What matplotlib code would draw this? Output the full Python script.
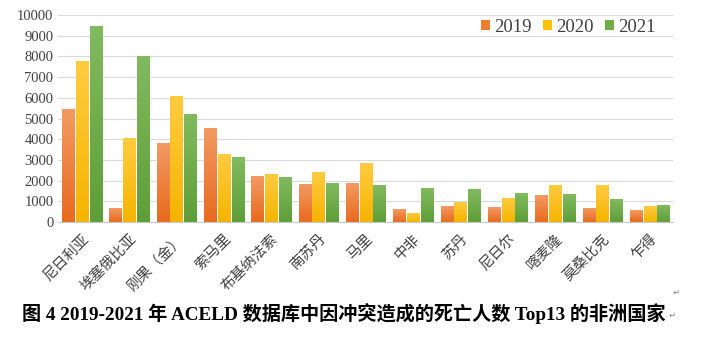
import numpy as np
import matplotlib.pyplot as plt
from matplotlib.colors import LinearSegmentedColormap

countries = ['尼日利亚', '埃塞俄比亚', '刚果（金）', '索马里', '布基纳法索', '南苏丹', '马里',
             '中非', '苏丹', '尼日尔', '喀麦隆', '莫桑比克', '乍得']
deaths_2019 = [5420, 640, 3780, 4510, 2220, 1800, 1880, 590, 750, 700, 1280, 660, 560]
deaths_2020 = [7780, 4050, 6060, 3260, 2310, 2390, 2850, 430, 960, 1120, 1750, 1780, 740]
deaths_2021 = [9440, 8020, 5210, 3100, 2140, 1860, 1770, 1610, 1570, 1380, 1330, 1080, 790]
years = ['2019', '2020', '2021']
yticks = list(range(0, 10001, 1000))

colors = ['#ED7D31', '#FFC000', '#70AD47']
# lighter top / darker bottom for the gradient fill
grad = [('#F29A63', '#E96A1E'), ('#FFCC40', '#F5B400'), ('#82BA5F', '#5E9E38')]
cjk = ['Noto Sans CJK SC', 'DejaVu Sans']
serif_cjk = ['Liberation Serif', 'Noto Sans CJK SC']

fig = plt.figure(figsize=(7.02, 3.43), dpi=100)
ax = fig.add_axes([0.083, 0.353, 0.876, 0.603])

x = np.arange(len(countries))
w = 0.255
ramp = np.linspace(0, 1, 64).reshape(-1, 1)
for i, (vals, c) in enumerate(zip([deaths_2019, deaths_2020, deaths_2021], colors)):
    bars = ax.bar(x + (i - 1) * (w + 0.035), vals, width=w, color=c, label=years[i], zorder=3)
    cmap = LinearSegmentedColormap.from_list('g%d' % i, [grad[i][1], grad[i][0]])
    for b in bars:
        x0, h = b.get_x(), b.get_height()
        ax.imshow(ramp, cmap=cmap, origin='lower', aspect='auto',
                  extent=(x0, x0 + b.get_width(), 0, h), zorder=3.5)

ax.set_xlim(-0.5, len(countries) - 0.5)
ax.set_ylim(0, 10000)
ax.set_yticks(yticks)
ax.set_yticklabels([str(v) for v in yticks], family='Liberation Serif', fontsize=10.5, color='#404040')
ax.set_xticks(x)
ax.set_xticklabels(countries, rotation=45, ha='right', rotation_mode='anchor',
                   family=cjk, fontsize=10.5, color='#404040')
ax.tick_params(length=0)
ax.tick_params(axis='x', pad=7)
ax.grid(axis='y', color='#D9D9D9', linewidth=0.8, zorder=0)
for s in ['top', 'right', 'left']:
    ax.spines[s].set_visible(False)
ax.spines['bottom'].set_color('#C8C8C8')
ax.spines['bottom'].set_zorder(4)

ax.legend(loc='center right', ncol=3, frameon=False, bbox_to_anchor=(0.987, 0.942), borderpad=0,
          prop={'family': 'Liberation Serif', 'size': 13.5},
          handlelength=0.45, handleheight=0.45, handletextpad=0.25, columnspacing=0.6,
          labelcolor='#404040')

fig.text(0.031, 0.085, '图 4 2019-2021 年 ACELD 数据库中因冲突造成的死亡人数 Top13 的非洲国家',
         ha='left', va='center', family=serif_cjk, fontweight='bold', fontsize=13.8)
fig.text(0.952, 0.08, '↵', ha='left', va='center', family='DejaVu Sans', fontsize=6, color='#808080')
fig.text(0.958, 0.148, '↵', ha='left', va='center', family='DejaVu Sans', fontsize=6, color='#808080')

fig.savefig('out.png', dpi=100)
